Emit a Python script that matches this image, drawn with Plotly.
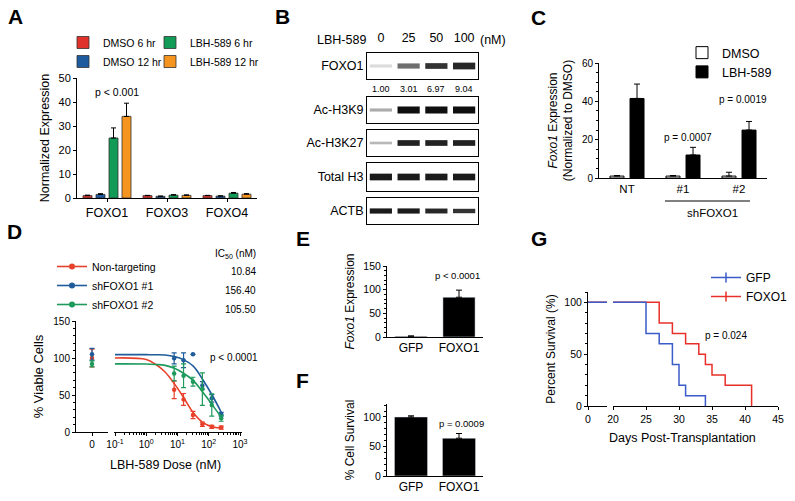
import plotly.graph_objects as go

W, H = 795, 501
FONT = "Liberation Sans, Arial, sans-serif"

# ---------------- data ----------------
# Panel A
a_genes = ["FOXO1", "FOXO3", "FOXO4"]
a_dmso6 = [1.0, 1.0, 1.0]
a_dmso6_err = [0.2, 0.1, 0.1]
a_dmso12 = [1.5, 0.7, 0.8]
a_dmso12_err = [0.3, 0.1, 0.1]
a_lbh6 = [25.0, 1.2, 2.0]
a_lbh6_err = [4.2, 0.2, 0.3]
a_lbh12 = [34.0, 1.1, 1.6]
a_lbh12_err = [5.5, 0.2, 0.2]

# Panel B (western blot)
b_doses = ["0", "25", "50", "100"]
b_lanes = [1, 2, 3, 4]
b_foxo1_quant = [1.00, 3.01, 6.97, 9.04]
b_rows = ["FOXO1", "Ac-H3K9", "Ac-H3K27", "Total H3", "ACTB"]
b_foxo1_int = [0.15, 0.6, 0.85, 0.9]
b_foxo1_thk = [0.12, 0.2, 0.22, 0.26]
b_h3k9_int = [0.35, 1.0, 1.0, 1.0]
b_h3k9_thk = [0.12, 0.27, 0.27, 0.27]
b_h3k27_int = [0.3, 0.92, 0.92, 0.92]
b_h3k27_thk = [0.1, 0.22, 0.22, 0.22]
b_h3_int = [0.95, 0.95, 0.95, 0.95]
b_h3_thk = [0.24, 0.24, 0.24, 0.24]
b_actb_int = [0.95, 0.95, 0.9, 0.85]
b_actb_thk = [0.2, 0.2, 0.19, 0.17]

# Panel C
c_groups = ["NT", "#1", "#2"]
c_dmso = [1.0, 1.0, 1.0]
c_dmso_err = [0.3, 0.3, 2.0]
c_lbh = [41.5, 12.0, 25.0]
c_lbh_err = [7.5, 4.0, 4.5]

# Panel D
d_doses = [7.8125, 15.625, 31.25, 62.5, 125, 250]
d_names = ["Non-targeting", "shFOXO1 #1", "shFOXO1 #2"]
d_ic50 = [10.84, 156.40, 105.50]
d_nt = [57, 44, 23, 10.4, 7, 6]
d_nt_err = [12, 8, 5, 3, 2, 2]
d_sh1 = [99.5, 97, 105, 63, 45.5, 24]
d_sh1_err = [7.5, 10, 0, 5, 5, 2.5]
d_sh2 = [79, 76, 68, 58, 36.5, 18.5]
d_sh2_err = [10, 16, 6, 22, 15, 4]
d_zero = [100, 105, 92]
d_zero_err = [12, 8, 4]
d_curve_doses = [0.1, 1, 2, 4, 8, 16, 32, 64, 128, 256]
d_nt_curve = [100, 98, 91.5, 81, 65, 46, 26, 13, 7, 5]
d_sh1_curve = [104.5, 104.5, 104.4, 104, 102, 97.5, 89, 71, 50, 26]
d_sh2_curve = [92, 91.8, 91.2, 90, 86, 79, 69.5, 54, 37, 19.5]

# Panel E / F
e_groups = ["GFP", "FOXO1"]
e_vals = [1.5, 84]
e_err = [0.8, 15]
f_vals = [100, 64]
f_err = [2, 8]

# Panel G
g_gfp_days = [0, 25, 27, 29, 30, 31, 34]
g_gfp_surv = [100, 70, 60, 40, 20, 10, 0]
g_foxo_days = [0, 27, 29, 31, 33, 34, 35, 37, 41]
g_foxo_surv = [100, 80, 70, 60, 50, 40, 30, 20, 0]


# ---------------- helpers ----------------
def dx(a, b):
    return [a / W, b / W]


def dy(top, bot):
    return [1 - bot / H, 1 - top / H]


def px(x):
    return x / W


def py(y):
    return 1 - y / H


def ax(**kw):
    base = dict(showline=True, linecolor="black", linewidth=1, ticks="outside",
                ticklen=3, tickwidth=1, tickcolor="black", showgrid=False,
                zeroline=False, tickfont=dict(size=10.5, color="black"),
                fixedrange=True, automargin=False)
    base.update(kw)
    return base


def up_err(arr, color="black", width=3):
    return dict(type="data", array=arr, arrayminus=[0] * len(arr), symmetric=False,
                color=color, thickness=1, width=width)


def note(text, x, y, size=10, xanchor="center", **kw):
    d = dict(text=text, x=px(x), y=py(y), xref="paper", yref="paper", showarrow=False,
             xanchor=xanchor, yanchor="middle", font=dict(size=size))
    d.update(kw)
    return d


fig = go.Figure()
lay = {}
ann = []
shapes = []

# ---------------- Panel A ----------------
a_cols = ["#E0312A", "#1D5A9E", "#129A57", "#F5941E"]
a_series = [("DMSO 6 hr", a_dmso6, a_dmso6_err, "legend"),
            ("DMSO 12 hr", a_dmso12, a_dmso12_err, "legend"),
            ("LBH-589 6 hr", a_lbh6, a_lbh6_err, "legend2"),
            ("LBH-589 12 hr", a_lbh12, a_lbh12_err, "legend2")]
bw = 0.15
for i, (nm, v, e, lg) in enumerate(a_series):
    c = (-1.5 + i) * 13 / 60
    fig.add_trace(go.Bar(x=a_genes, y=v, name=nm, width=bw, offset=c - bw / 2,
                         marker=dict(color=a_cols[i], line=dict(color="#333", width=0.8)),
                         error_y=up_err(e, width=2.5), xaxis="x", yaxis="y", legend=lg))
lay["xaxis"] = ax(domain=dx(77, 257), anchor="y", type="category", range=[-0.5, 2.5],
                  tickfont=dict(size=12.5, color="black"))
lay["yaxis"] = ax(domain=dy(78, 198), anchor="x", range=[0, 50], dtick=10,
                  tickfont=dict(size=11, color="black"),
                  title=dict(text="Normalized Expression", font=dict(size=12.5), standoff=6))
ann.append(note("p < 0.001", 117, 92, 10.5))

# ---------------- Panel B ----------------
b_row_data = [(b_rows[0], b_foxo1_int, b_foxo1_thk), (b_rows[1], b_h3k9_int, b_h3k9_thk),
              (b_rows[2], b_h3k27_int, b_h3k27_thk), (b_rows[3], b_h3_int, b_h3_thk),
              (b_rows[4], b_actb_int, b_actb_thk)]
b_boxes = [(53, 79), (97, 123), (130, 156), (163, 191), (198, 224)]
for i, (label, inten, thk) in enumerate(b_row_data):
    k = 2 + i
    fig.add_trace(go.Bar(x=b_lanes, y=thk, base=[0.5 - t / 2 for t in thk], width=0.8,
                         marker=dict(color=[f"rgba(15,15,15,{v})" for v in inten], line=dict(width=0)),
                         xaxis=f"x{k}", yaxis=f"y{k}", showlegend=False))
    xa = ax(domain=dx(367, 478), anchor=f"y{k}", range=[0.5, 4.5], mirror=True, ticks="",
            showticklabels=False)
    if i == 0:
        xa.update(side="top", showticklabels=True, tickvals=b_lanes, ticktext=b_doses,
                  tickfont=dict(size=12.5, color="black"), ticklabelstandoff=5)
    lay[f"xaxis{k}"] = xa
    lay[f"yaxis{k}"] = ax(domain=dy(*b_boxes[i]), anchor=f"x{k}", range=[0, 1], mirror=True,
                          ticks="", tickvals=[0.5], ticktext=[label],
                          tickfont=dict(size=12.5, color="black"))
for lane, q in zip(b_lanes, b_foxo1_quant):
    ann.append(dict(text=f"{q:.2f}", x=lane, xref="x2", y=py(89), yref="paper",
                    xanchor="center", yanchor="middle", showarrow=False, font=dict(size=9)))
ann.append(note("LBH-589", 368, 40, 12.5, xanchor="right"))
ann.append(note("(nM)", 478, 40, 12.5, xanchor="left"))

# ---------------- Panel C ----------------
cw = 0.25
fig.add_trace(go.Bar(x=c_groups, y=c_dmso, name="DMSO", width=cw, offset=-0.179 - cw / 2,
                     marker=dict(color="white", line=dict(color="black", width=1)),
                     error_y=up_err(c_dmso_err), xaxis="x7", yaxis="y7", legend="legend3"))
fig.add_trace(go.Bar(x=c_groups, y=c_lbh, name="LBH-589", width=cw, offset=0.179 - cw / 2,
                     marker=dict(color="black", line=dict(color="black", width=1)),
                     error_y=up_err(c_lbh_err), xaxis="x7", yaxis="y7", legend="legend3"))
lay["xaxis7"] = ax(domain=dx(599, 767), anchor="y7", type="category", range=[-0.5, 2.5],
                   tickfont=dict(size=11.5, color="black"), ticks="")
lay["yaxis7"] = ax(domain=dy(63, 178), anchor="x7", range=[0, 60], dtick=20,
                   minor=dict(ticks="outside", ticklen=2, dtick=5, tickcolor="black"),
                   tickfont=dict(size=10, color="black"),
                   title=dict(text="<i>Foxo1</i> Expression<br>(Normalized to DMSO)",
                              font=dict(size=12), standoff=6))
ann.append(note("p = 0.0007", 688, 138, 10))
ann.append(note("p = 0.0019", 743, 100, 10))
shapes.append(dict(type="line", x0=px(665), x1=px(750), y0=py(201), y1=py(201),
                   xref="paper", yref="paper", line=dict(color="black", width=1)))
ann.append(note("shFOXO1", 712, 213, 11.5))

# ---------------- Panel D ----------------
d_cols = ["#E8412B", "#1F5C99", "#1D9A5C"]
d_pts = [(d_nt, d_nt_err), (d_sh1, d_sh1_err), (d_sh2, d_sh2_err)]
d_curves = [d_nt_curve, d_sh1_curve, d_sh2_curve]
for i in range(3):
    col = d_cols[i]
    fig.add_trace(go.Scatter(x=d_curve_doses, y=d_curves[i], mode="lines", line=dict(color=col, width=1.6, shape="spline"),
                             xaxis="x9", yaxis="y9", showlegend=False))
    fig.add_trace(go.Scatter(x=d_doses, y=d_pts[i][0], mode="markers",
                             marker=dict(color=col, size=4.5),
                             error_y=dict(type="data", array=d_pts[i][1], color=col, thickness=1.2, width=2.5),
                             xaxis="x9", yaxis="y9", showlegend=False))
    fig.add_trace(go.Scatter(x=[0], y=[d_zero[i]], mode="markers",
                             marker=dict(color=col, size=4.5),
                             error_y=dict(type="data", array=[d_zero_err[i]], color=col, thickness=1.2, width=2.5),
                             xaxis="x8", yaxis="y8", showlegend=False))
    fig.add_trace(go.Scatter(x=[None], y=[None], mode="lines+markers", name=d_names[i],
                             line=dict(color=col, width=1.6), marker=dict(color=col, size=6),
                             xaxis="x9", yaxis="y9", legend="legend4"))
lay["xaxis8"] = ax(domain=dx(76, 108), anchor="y8", range=[-1, 1], tickvals=[0], ticktext=["0"],
                   tickfont=dict(size=10, color="black"))
lay["yaxis8"] = ax(domain=dy(321, 432), anchor="x8", range=[0, 150], dtick=50,
                   minor=dict(ticks="outside", ticklen=2, dtick=10, tickcolor="black"),
                   tickfont=dict(size=10, color="black"),
                   title=dict(text="% Viable Cells", font=dict(size=13), standoff=6))
lay["xaxis9"] = ax(domain=dx(114, 242), anchor="y9", type="log", range=[-1.032, 3.064],
                   tickvals=[0.1, 1, 10, 100, 1000],
                   ticktext=["10<sup>-1</sup>", "10<sup>0</sup>", "10<sup>1</sup>", "10<sup>2</sup>", "10<sup>3</sup>"],
                   minor=dict(ticks="outside", ticklen=2, dtick="D1", tickcolor="black"),
                   tickfont=dict(size=10, color="black"))
lay["yaxis9"] = dict(domain=dy(321, 432), anchor="x9", range=[0, 150], visible=False, fixedrange=True)
ann.append(note("LBH-589 Dose (nM)", 165, 465, 12.5))
ann.append(note("p < 0.0001", 234, 357, 10))
ann.append(note("IC<sub>50</sub> (nM)", 258, 254, 10, xanchor="right"))
for i, v in enumerate(d_ic50):
    ann.append(note(f"{v:.2f}", 258, 271 + 19 * i, 10, xanchor="right"))

# ---------------- Panel E ----------------
fig.add_trace(go.Bar(x=e_groups, y=e_vals, width=0.67, marker=dict(color="black"),
                     error_y=up_err(e_err), xaxis="x10", yaxis="y10", showlegend=False))
lay["xaxis10"] = ax(domain=dx(387, 483), anchor="y10", type="category", range=[-0.5, 1.5],
                    ticks="", tickfont=dict(size=12, color="black"))
lay["yaxis10"] = ax(domain=dy(266, 337), anchor="x10", range=[0, 150], dtick=50,
                    minor=dict(ticks="outside", ticklen=2, dtick=10, tickcolor="black"),
                    tickfont=dict(size=10.5, color="black"),
                    title=dict(text="<i>Foxo1</i> Expression", font=dict(size=12), standoff=6))
ann.append(note("p < 0.0001", 457, 275, 9.5))

# ---------------- Panel F ----------------
fig.add_trace(go.Bar(x=e_groups, y=f_vals, width=0.69, marker=dict(color="black"),
                     error_y=up_err(f_err), xaxis="x11", yaxis="y11", showlegend=False))
lay["xaxis11"] = ax(domain=dx(387, 483), anchor="y11", type="category", range=[-0.5, 1.5],
                    ticks="", tickfont=dict(size=12, color="black"))
lay["yaxis11"] = ax(domain=dy(404, 476), anchor="x11", range=[0, 122], tickvals=[0, 50, 100],
                    minor=dict(ticks="outside", ticklen=2, dtick=10, tickcolor="black"),
                    tickfont=dict(size=10.5, color="black"),
                    title=dict(text="% Cell Survival", font=dict(size=12), standoff=6))
ann.append(note("p = 0.0009", 461, 423, 9.5))

# ---------------- Panel G ----------------
g_series = [("FOXO1", g_foxo_days, g_foxo_surv, "#E8302A"),
            ("GFP", g_gfp_days, g_gfp_surv, "#3B5BC8")]
for nm, dd, ss, col in g_series:
    fig.add_trace(go.Scatter(x=dd, y=ss, mode="lines", line=dict(color=col, width=1.5, shape="hv"),
                             xaxis="x12", yaxis="y12", showlegend=False))
    fig.add_trace(go.Scatter(x=dd, y=ss, mode="lines", line=dict(color=col, width=1.5, shape="hv"),
                             xaxis="x13", yaxis="y13", showlegend=False))
for nm, dd, ss, col in reversed(g_series):
    fig.add_trace(go.Scatter(x=[None], y=[None], mode="lines+markers", name=nm,
                             line=dict(color=col, width=1.5),
                             marker=dict(symbol="line-ns", size=7, line=dict(color=col, width=1.5)),
                             xaxis="x13", yaxis="y13", legend="legend5"))
lay["xaxis12"] = ax(domain=dx(588, 607), anchor="y12", range=[0, 3], tickvals=[0],
                    tickfont=dict(size=10.5, color="black"))
lay["yaxis12"] = ax(domain=dy(292, 406), anchor="x12", range=[0, 110], tickvals=[0, 50, 100],
                    minor=dict(ticks="outside", ticklen=2, dtick=10, tickcolor="black"),
                    tickfont=dict(size=10.5, color="black"),
                    title=dict(text="Percent Survival (%)", font=dict(size=12), standoff=6))
lay["xaxis13"] = ax(domain=dx(613, 778), anchor="y13", range=[20, 45], dtick=5,
                    tickfont=dict(size=10.5, color="black"))
lay["yaxis13"] = dict(domain=dy(292, 406), anchor="x13", range=[0, 110], visible=False, fixedrange=True)
ann.append(note("Days Post-Transplantation", 682, 438, 12.5))
ann.append(note("p = 0.024", 726, 335, 10))

# ---------------- panel letters ----------------
for letter, x, y in [("A", 15.5, 16.5), ("B", 282.5, 16.5), ("C", 538.5, 17.5), ("D", 14.5, 231.5),
                     ("E", 302.5, 239), ("F", 302.5, 380), ("G", 538.5, 239)]:
    ann.append(note(f"<b>{letter}</b>", x, y, 21))

# ---------------- legends ----------------
leg_common = dict(bgcolor="rgba(0,0,0,0)", borderwidth=0, xanchor="left", yanchor="top",
                  itemclick=False, itemdoubleclick=False, tracegroupgap=0)
lay["legend"] = dict(leg_common, x=px(63), y=py(28), font=dict(size=10.5))
lay["legend2"] = dict(leg_common, x=px(150), y=py(28), font=dict(size=10.5))
lay["legend3"] = dict(leg_common, x=px(682), y=py(38), font=dict(size=12.5))
lay["legend4"] = dict(leg_common, x=px(52), y=py(252), font=dict(size=10.5))
lay["legend5"] = dict(leg_common, x=px(706), y=py(263), font=dict(size=12))

fig.update_layout(
    width=W, height=H, margin=dict(l=0, r=0, t=0, b=0, autoexpand=False),
    paper_bgcolor="white", plot_bgcolor="white",
    font=dict(family=FONT, color="black", size=11),
    barmode="overlay", showlegend=True,
    annotations=ann, shapes=shapes, **lay)

fig.write_html("out.html", config={"displayModeBar": False},
               post_script="document.body.style.margin='0px';")
